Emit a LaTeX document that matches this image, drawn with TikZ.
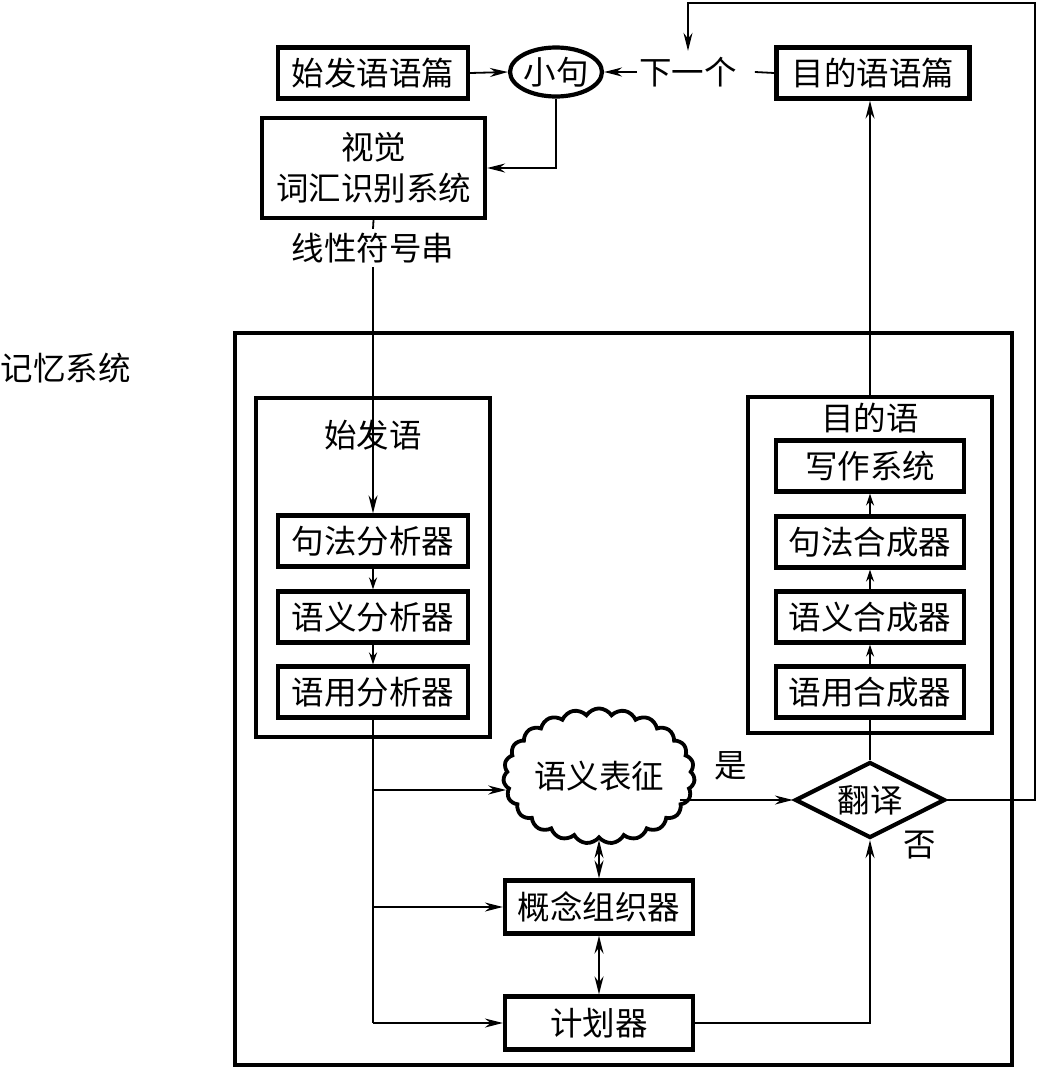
\documentclass[tikz,border=0pt]{standalone}
\usepackage{fontspec}
\newfontfamily\cjk{Noto Sans CJK SC}
\usetikzlibrary{shapes.geometric,shapes.symbols,arrows.meta}
\begin{document}
\begin{tikzpicture}[x=1pt,y=-1pt,
  font=\cjk\fontsize{32.5}{41}\selectfont,
  box/.style={draw,line width=4.2pt,minimum width=190pt,minimum height=51pt,inner sep=0pt},
  frame/.style={draw,line width=4pt,inner sep=0pt},
  txt/.style={inner sep=0pt},
  ln/.style={line width=1.8pt},
  arr/.style={line width=1.8pt,-{Stealth[length=18pt,width=9pt]}},
  sarr/.style={line width=1.8pt,-{Stealth[length=12pt,width=8pt]}},
  darr/.style={line width=1.8pt,{Stealth[length=18pt,width=9pt]}-{Stealth[length=18pt,width=9pt]}}]
\useasboundingbox (0,0) rectangle (1041,1068);

% top row
\node[box] (sd) at (373,73) {始发语语篇};
\node[draw,ellipse,line width=4.2pt,minimum width=87pt,minimum height=49pt,inner sep=0pt] (xj) at (556,72) {小句};
\node[box,minimum width=193pt] (td) at (873,73) {目的语语篇};
\node[txt] (next) at (688,72) {下一个};
\coordinate (nxr) at ([xshift=18pt]next.east);
\coordinate (nxl) at ([xshift=-2pt]next.west);
\draw[arr] (sd.east) -- (xj.west);
\draw[ln] (td.west) -- (nxr);
\draw[arr] (nxl) -- (xj.east);

% visual
\node[box,minimum width=223pt,minimum height=100pt,align=center] (vis) at (373.5,168) {视觉\\词汇识别系统};
\draw[arr] (xj.south) |- (vis.east);
\node[txt] (lin) at (373,248) {线性符号串};
\draw[ln] (vis.south) -- ([yshift=4pt]lin.north);

% memory
\node[frame,minimum width=777pt,minimum height=732pt] (mem) at (623.5,699) {};
\node[txt] (memlab) at (66,368) {记忆系统};

% source
\node[frame,minimum width=234pt,minimum height=339pt] (src) at (373,567.5) {};
\node[txt] (srct) at (373,435) {始发语};
\node[box] (sy) at (373,541) {句法分析器};
\node[box] (yy) at (373,617) {语义分析器};
\node[box] (yp) at (373,692) {语用分析器};
\draw[arr] ([yshift=-4pt]lin.south) -- (sy.north);
\draw[sarr] (sy.south) -- (yy.north);
\draw[sarr] (yy.south) -- (yp.north);

% target
\node[frame,minimum width=244pt,minimum height=336pt] (tgt) at (870,565) {};
\node[txt] (tgtt) at (870,418) {目的语};
\node[box,minimum width=188pt] (xz) at (870,466) {写作系统};
\node[box,minimum width=188pt] (jh) at (870,542) {句法合成器};
\node[box,minimum width=188pt] (yh) at (870,617) {语义合成器};
\node[box,minimum width=188pt] (yph) at (870,692) {语用合成器};
\draw[sarr] (yph.north) -- (yh.south);
\draw[sarr] (yh.north) -- (jh.south);
\draw[sarr] (jh.north) -- (xz.south);
\draw[arr] (tgt.north) -- (tgt.north |- td.south);

% centre
\node[cloud,draw,line width=3.8pt,cloud puffs=23,cloud puff arc=115,aspect=1.5,minimum width=182pt,minimum height=120pt,inner sep=0pt] (cl) at (599,776) {语义表征};
\node[diamond,draw,line width=4.2pt,minimum width=150pt,minimum height=76pt,inner sep=0pt,aspect=2] (dia) at (870,800) {翻译};
\node[txt] (yes) at (731,766) {是};
\node[txt] (no) at (920,845) {否};
\node[box,minimum width=188pt,minimum height=53pt] (gz) at (599,907) {概念组织器};
\node[box,minimum width=188pt,minimum height=53pt] (pl) at (599,1023) {计划器};

\coordinate (ce) at ([xshift=-16pt]cl.east);
\draw[arr] (ce |- dia.west) -- (dia.west);
\draw[ln] (dia.north) -- (yph.south);
\draw[darr] (cl.south) -- (gz.north);
\draw[darr] (gz.south) -- (pl.north);
\draw[arr] (pl.east) -| (dia.south);

% left spine
\coordinate (b1) at (373,790);
\coordinate (b2) at (373,907);
\coordinate (b3) at (373,1023);
\coordinate (cw) at ([xshift=4pt]cl.west);
\draw[ln] (yp.south) -- (b3);
\draw[arr] (b1) -- (cw |- b1);
\draw[arr] (b2) -- (gz.west);
\draw[arr] (b3) -- (pl.west);

% loop
\coordinate (c1) at (1035,3);
\draw[arr] (dia.east) -- (dia.east -| c1) -- (c1) -- (c1 -| next) -- ([yshift=6pt]next.north);
\end{tikzpicture}
\end{document}
